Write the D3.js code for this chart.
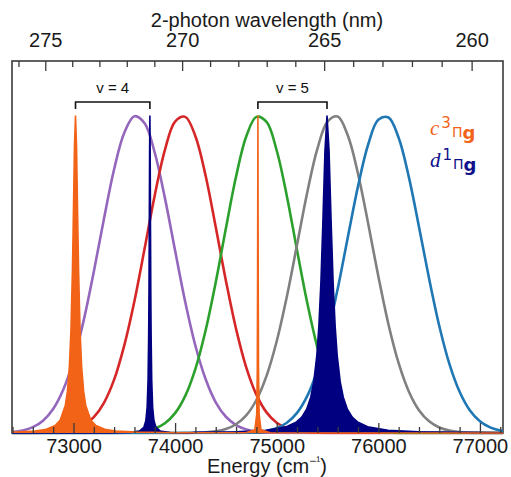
<!DOCTYPE html>
<html>
<head>
<meta charset="utf-8">
<script src="https://cdn.jsdelivr.net/npm/d3@7"></script>
<style>
 body { margin: 0; background: #fff; }
 svg { display: block; }
 .tick line { stroke: #3a3a3a; stroke-width: 1.3; }
 .tick text { font-family: "Liberation Sans", Arial, sans-serif; font-size: 20px; fill: #1a1a1a; }
</style>
</head>
<body>
<div id="chart"></div>
<script>
// energy grid (cm-1) for the laser profiles
var energy = [72400, 72500, 72600, 72700, 72800, 72900, 73000, 73100, 73200, 73300,
 73400, 73500, 73600, 73700, 73800, 73900, 74000, 74100, 74200, 74300,
 74400, 74500, 74600, 74700, 74800, 74900, 75000, 75100, 75200, 75300,
 75400, 75500, 75600, 75700, 75800, 75900, 76000, 76100, 76200, 76300,
 76400, 76500, 76600, 76700, 76800, 76900, 77000, 77100, 77200, 77300];

// laser profiles, normalised intensity on the energy grid
var purpleLaser = [0.0033, 0.0081, 0.0184, 0.0389, 0.0757, 0.137, 0.229, 0.354, 0.508, 0.675,
 0.831, 0.946, 0.998, 0.976, 0.883, 0.740, 0.575, 0.413, 0.275, 0.170,
 0.0968, 0.0512, 0.0251, 0.0114, 0.0048, 0.0019, 0.0007, 0, 0, 0,
 0, 0, 0, 0, 0, 0, 0, 0, 0, 0,
 0, 0, 0, 0, 0, 0, 0, 0, 0, 0];
var redLaser = [0, 0.0001, 0.0002, 0.0006, 0.0017, 0.0044, 0.0107, 0.0239, 0.0497, 0.0952,
 0.168, 0.276, 0.416, 0.581, 0.749, 0.892, 0.981, 0.996, 0.935, 0.811,
 0.649, 0.480, 0.328, 0.207, 0.121, 0.0650, 0.0324, 0.0149, 0.0063, 0.0025,
 0.0009, 0.0003, 0.0001, 0, 0, 0, 0, 0, 0, 0,
 0, 0, 0, 0, 0, 0, 0, 0, 0, 0];
var greenLaser = [0, 0, 0, 0, 0, 0, 0, 0, 0, 0.0001,
 0.0003, 0.0008, 0.0023, 0.0059, 0.0140, 0.0308, 0.0625, 0.117, 0.202, 0.323,
 0.475, 0.645, 0.808, 0.934, 0.996, 0.980, 0.890, 0.746, 0.576, 0.411,
 0.270, 0.164, 0.0920, 0.0475, 0.0227, 0.0100, 0.0041, 0.0015, 0.0005, 0.0002,
 0, 0, 0, 0, 0, 0, 0, 0, 0, 0];
var grayLaser = [0, 0, 0, 0, 0, 0, 0, 0, 0, 0,
 0, 0, 0, 0, 0, 0, 0.0001, 0.0003, 0.0008, 0.0021,
 0.0054, 0.0126, 0.0275, 0.0555, 0.104, 0.180, 0.289, 0.430, 0.593, 0.757,
 0.895, 0.981, 0.997, 0.937, 0.817, 0.660, 0.494, 0.342, 0.220, 0.131,
 0.0720, 0.0368, 0.0174, 0.0076, 0.0031, 0.0012, 0.0004, 0.0001, 0, 0];
var blueLaser = [0, 0, 0, 0, 0, 0, 0, 0, 0, 0,
 0, 0, 0, 0, 0, 0, 0, 0, 0, 0,
 0, 0.0001, 0.0004, 0.0010, 0.0027, 0.0066, 0.0151, 0.0321, 0.0633, 0.116,
 0.197, 0.310, 0.454, 0.617, 0.777, 0.909, 0.987, 0.994, 0.930, 0.807,
 0.650, 0.486, 0.337, 0.217, 0.130, 0.0719, 0.0370, 0.0177, 0.0078, 0.0032];

// c3Pi_g resonances (v = 4 and v = 5)
var cEnergy = [72300, 72420, 72620, 72720, 72820, 72870, 72920, 72940, 72960, 72975,
 72990, 73000, 73010, 73020, 73030, 73040, 73050, 73065, 73080, 73100,
 73120, 73170, 73220, 73320, 73420, 73620, 74020, 74695, 74785, 74803,
 74809, 74812, 74815, 74818, 74821, 74827, 74845, 74935, 77300];
var cIntensity = [0, 0.0027, 0.0060, 0.0106, 0.0235, 0.041, 0.0877, 0.131, 0.211, 0.322,
 0.516, 0.706, 0.906, 1, 0.906, 0.706, 0.516, 0.322, 0.211, 0.131,
 0.0877, 0.041, 0.0235, 0.0106, 0.0060, 0.0027, 0.0010, 0.0006, 0.0099, 0.0588,
 0.2, 0.5, 1, 0.5, 0.2, 0.0588, 0.0099, 0.0006, 0];

// d1Pi_g resonances (v = 4 and v = 5)
var dEnergy = [72300, 73352, 73552, 73652, 73692, 73712, 73725, 73734, 73740, 73743,
 73746, 73749, 73752, 73755, 73758, 73761, 73764, 73770, 73779, 73792,
 73812, 73852, 73952, 74152, 74195, 74595, 74895, 75095, 75195, 75245,
 75295, 75335, 75365, 75395, 75415, 75435, 75455, 75475, 75495, 75515,
 75535, 75555, 75575, 75595, 75625, 75655, 75695, 75745, 75795, 75895,
 76095, 76395, 76795, 77300];
var dIntensity = [0, 0.0004, 0.0016, 0.0064, 0.0175, 0.0385, 0.081, 0.165, 0.308, 0.441,
 0.640, 0.877, 1, 0.877, 0.640, 0.441, 0.308, 0.165, 0.081, 0.0385,
 0.0175, 0.0064, 0.0016, 0.0004, 0.0019, 0.0040, 0.0089, 0.0199, 0.0348, 0.0494,
 0.0751, 0.113, 0.161, 0.245, 0.337, 0.474, 0.670, 0.890, 1, 0.890,
 0.670, 0.474, 0.337, 0.245, 0.161, 0.113, 0.0751, 0.0494, 0.0348, 0.0199,
 0.0089, 0.0040, 0.0019, 0];

// axis ticks
var energyMajor = [73000, 74000, 75000, 76000, 77000];
var energyMinor = [72400, 72600, 72800, 73200, 73400, 73600, 73800, 74200, 74400, 74600,
 74800, 75200, 75400, 75600, 75800, 76200, 76400, 76600, 76800, 77200];
var waveMajor = [275, 270, 265, 260];
var waveMinor = [276, 274, 273, 272, 271, 269, 268, 267, 266, 264, 263, 262, 261];

// vibrational level brackets
var levelNames = ['v = 4', 'v = 5'];
var levelFrom = [73020, 74815];
var levelTo = [73752, 75495];

var svgWidth = 511, svgHeight = 477;
var plotLeft = 12, plotRight = 503, plotTop = 61, plotBottom = 433;

var svg = d3.select('#chart').append('svg')
 .attr('width', svgWidth).attr('height', svgHeight);

var x = d3.scaleLinear().domain([72395, 77227]).range([plotLeft, plotRight]);
var y = d3.scaleLinear().domain([0, 1.172]).range([plotBottom, plotTop]);

// frame first, so the orange baseline lies over its bottom edge
svg.append('rect').attr('x', plotLeft).attr('y', plotTop)
 .attr('width', plotRight - plotLeft).attr('height', plotBottom - plotTop)
 .attr('fill', 'none').attr('stroke', '#3a3a3a').attr('stroke-width', 1.6);

svg.append('clipPath').attr('id', 'plotClip')
 .append('rect').attr('x', plotLeft).attr('y', plotTop)
 .attr('width', plotRight - plotLeft).attr('height', plotBottom - plotTop + 1.5);

var plot = svg.append('g').attr('clip-path', 'url(#plotClip)');

// lasers drawn as lines
var laserLine = d3.line()
 .x(function(d, i){ return x(energy[i]); })
 .y(function(d){ return y(d); })
 .curve(d3.curveCatmullRom.alpha(0.5));

var lasers = [
 {values: purpleLaser, color: '#9467bd'},
 {values: redLaser, color: '#d62728'},
 {values: greenLaser, color: '#2ca02c'},
 {values: grayLaser, color: '#808080'},
 {values: blueLaser, color: '#1f77b4'}
];
lasers.forEach(function(l){
 plot.append('path').attr('d', laserLine(l.values))
  .attr('fill', 'none').attr('stroke', l.color).attr('stroke-width', 2.6);
});

// resonances drawn as filled areas
function drawResonance(en, inten, color)
{
 var pts = en.map(function(e, i){ return [e, inten[i]]; });
 var area = d3.area().x(function(d){ return x(d[0]); })
  .y0(y(0)).y1(function(d){ return y(d[1]); });
 var line = d3.line().x(function(d){ return x(d[0]); })
  .y(function(d){ return y(d[1]); });
 plot.append('path').attr('d', area(pts)).attr('fill', color);
 plot.append('path').attr('d', line(pts)).attr('fill', 'none')
  .attr('stroke', color).attr('stroke-width', 1.6);
}
drawResonance(dEnergy, dIntensity, '#000080');
drawResonance(cEnergy, cIntensity, '#f26318');

// bottom axis (energy), ticks inside
svg.append('g').attr('transform', 'translate(0,' + plotBottom + ')')
 .call(d3.axisBottom(x).tickValues(energyMajor).tickSize(-10).tickPadding(6)
  .tickFormat(d3.format('d')))
 .call(function(g){ g.select('.domain').remove(); });
svg.append('g').attr('transform', 'translate(0,' + plotBottom + ')')
 .call(d3.axisBottom(x).tickValues(energyMinor).tickSize(-6).tickFormat(''))
 .call(function(g){ g.select('.domain').remove(); });

// top axis (2-photon wavelength), positions converted to energy
var xWave = function(nm){ return x(2e7 / nm); };
var topAxis = svg.append('g').attr('transform', 'translate(0,' + plotTop + ')');
waveMajor.forEach(function(nm){
 var t = topAxis.append('g').attr('class', 'tick').attr('transform', 'translate(' + xWave(nm) + ',0)');
 t.append('line').attr('y2', 10);
 t.append('text').attr('y', -14).attr('text-anchor', 'middle').text(nm);
});
waveMinor.forEach(function(nm){
 topAxis.append('g').attr('class', 'tick').attr('transform', 'translate(' + xWave(nm) + ',0)')
  .append('line').attr('y2', 6);
});

// axis titles
svg.append('text').attr('x', 267).attr('y', 27).attr('text-anchor', 'middle')
 .style('font-family', '"Liberation Sans", Arial, sans-serif').style('font-size', '20px')
 .attr('fill', '#1a1a1a').text('2-photon wavelength (nm)');

var eTitle = svg.append('text').attr('x', 267).attr('y', 473).attr('text-anchor', 'middle')
 .style('font-family', '"Liberation Sans", Arial, sans-serif').style('font-size', '20px')
 .attr('fill', '#1a1a1a');
eTitle.append('tspan').text('Energy (cm');
eTitle.append('tspan').attr('dy', -8).style('font-size', '12px').text('\u2212\u00b9');
eTitle.append('tspan').attr('dy', 8).text(')');

// brackets for vibrational levels
levelNames.forEach(function(name, i){
 var x0 = x(levelFrom[i]), x1 = x(levelTo[i]);
 svg.append('path')
  .attr('d', 'M' + x0 + ',109V102H' + x1 + 'V109')
  .attr('fill', 'none').attr('stroke', '#111').attr('stroke-width', 1.6);
 svg.append('text').attr('x', (x0 + x1) / 2).attr('y', 93).attr('text-anchor', 'middle')
  .style('font-family', '"Liberation Sans", Arial, sans-serif').style('font-size', '15px')
  .attr('fill', '#111').text(name);
});

// state labels
function stateLabel(letter, mult, yPos, color)
{
 var t = svg.append('text').attr('x', 430).attr('y', yPos).attr('fill', color)
  .style('font-family', '"Liberation Serif", "DejaVu Serif", serif');
 t.append('tspan').style('font-style', 'italic').style('font-size', '21px').text(letter);
 t.append('tspan').attr('dx', 2).attr('dy', -7).style('font-size', '15px')
  .style('font-family', '"DejaVu Sans", sans-serif').text(mult);
 t.append('tspan').attr('dx', 1).attr('dy', 9).style('font-size', '14px')
  .style('font-family', '"DejaVu Sans", sans-serif').text('\u03a0');
 t.append('tspan').attr('dy', 2).style('font-size', '18px').style('font-weight', 'bold')
  .style('font-family', '"DejaVu Sans", sans-serif').text('g');
}
stateLabel('c', '3', 135, '#f26318');
stateLabel('d', '1', 167, '#10108a');
</script>
</body>
</html>
